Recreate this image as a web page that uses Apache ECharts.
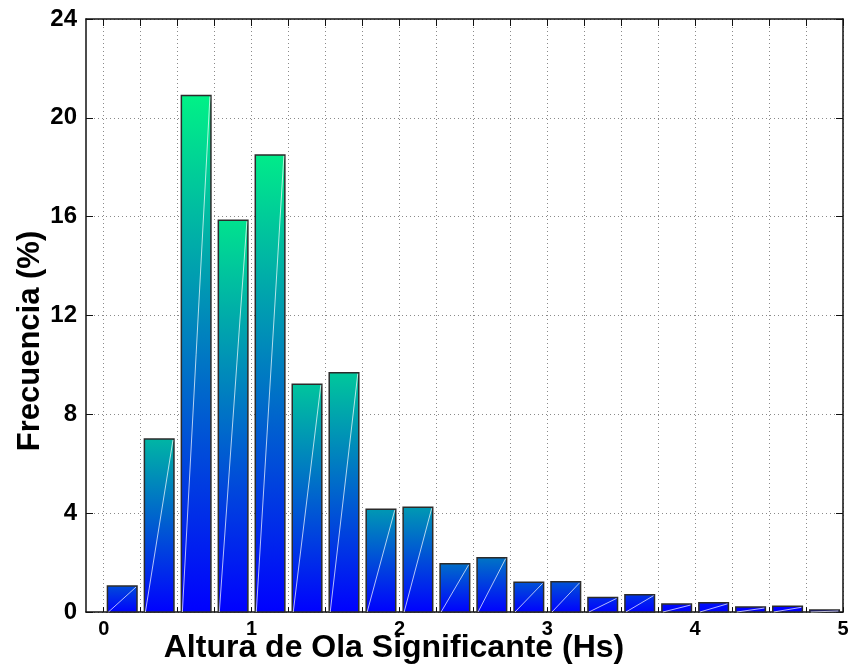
<!DOCTYPE html>
<html>
<head>
<meta charset="utf-8">
<title>Frecuencia de Altura de Ola Significante</title>
<script src="https://cdn.jsdelivr.net/npm/echarts@6/dist/echarts.min.js"></script>
<style>
  html, body { margin: 0; padding: 0; background: #fff; }
  #chart { width: 861px; height: 668px; }
</style>
</head>
<body>
<div id="chart"></div>
<script>
// Histogram bins (Hs, metres) and their relative frequency (%)
const binCenters = [0.125, 0.375, 0.625, 0.875, 1.125, 1.375, 1.625, 1.875, 2.125, 2.375,
                    2.625, 2.875, 3.125, 3.375, 3.625, 3.875, 4.125, 4.375, 4.625, 4.875];
const frequency  = [1.05, 7.0, 20.9, 15.85, 18.5, 9.22, 9.68, 4.16, 4.24, 1.95,
                    2.2, 1.2, 1.22, 0.59, 0.7, 0.32, 0.37, 0.2, 0.23, 0.08];

// Axis ticks
const xGridValues  = [0, 0.25, 0.5, 0.75, 1, 1.25, 1.5, 1.75, 2, 2.25, 2.5, 2.75,
                      3, 3.25, 3.5, 3.75, 4, 4.25, 4.5, 4.75, 5];
const xLabelValues = [0, 1, 2, 3, 4, 5];
const yMin = 0, yMax = 24, yStep = 4;
const xMin = -0.12, xMax = 5;
const barWidth = 0.2;

const xTitle = 'Altura de Ola Significante (Hs)';
const yTitle = 'Frecuencia (%)';

const FONT = '"Liberation Sans", Arial, Helvetica, sans-serif';

// "winter" colour map: blue -> green
function winter(t) {
  t = Math.max(0, Math.min(1, t));
  const g = Math.round(255 * t);
  const b = Math.round(255 * (1 - 0.5 * t));
  return 'rgb(0,' + g + ',' + b + ')';
}
// colour reached at the top of a bar of height v (log-scaled)
function topColor(v) {
  return winter((Math.log10(Math.max(v, 0.01)) + 0.58) / 2);
}

const barData = binCenters.map((c, i) => [c, frequency[i]]);

const chart = echarts.init(document.getElementById('chart'), null, { renderer: 'canvas' });

const gridDotted = { color: '#8a8a8a', width: 1, type: [1, 3] };
const axisLineStyle = { color: '#111', width: 1.5 };

chart.setOption({
  animation: false,
  backgroundColor: '#fff',
  grid: { left: 86, right: 18, top: 19, bottom: 56, containLabel: false },
  xAxis: [
    {
      type: 'value', min: xMin, max: xMax, position: 'bottom',
      axisLine: { show: true, onZero: false, lineStyle: axisLineStyle },
      axisTick: { show: true, inside: true, length: 5, customValues: xGridValues,
                  lineStyle: { color: '#111', width: 1 } },
      axisLabel: { show: true, customValues: xLabelValues, margin: 7,
                   fontFamily: FONT, fontWeight: 'bold', fontSize: 20, color: '#000' },
      splitLine: { show: true, lineStyle: gridDotted }
    },
    {
      type: 'value', min: xMin, max: xMax, position: 'top',
      axisLine: { show: true, onZero: false, lineStyle: axisLineStyle },
      axisTick: { show: true, inside: true, length: 7, customValues: xGridValues,
                  lineStyle: { color: '#111', width: 1 } },
      axisLabel: { show: false },
      splitLine: { show: false }
    }
  ],
  yAxis: [
    {
      type: 'value', min: yMin, max: yMax, interval: yStep, position: 'left',
      axisLine: { show: true, onZero: false, lineStyle: axisLineStyle },
      axisTick: { show: true, inside: true, length: 7, lineStyle: { color: '#111', width: 1 } },
      axisLabel: { show: true, margin: 9, fontFamily: FONT, fontWeight: 'bold',
                   fontSize: 24, color: '#000' },
      splitLine: { show: true, lineStyle: gridDotted }
    },
    {
      type: 'value', min: yMin, max: yMax, interval: yStep, position: 'right',
      axisLine: { show: true, onZero: false, lineStyle: axisLineStyle },
      axisTick: { show: true, inside: true, length: 7, lineStyle: { color: '#111', width: 1 } },
      axisLabel: { show: false },
      splitLine: { show: false }
    }
  ],
  graphic: [
    {
      type: 'text', x: 394, y: 648,
      style: { text: xTitle, fontFamily: FONT, fontWeight: 'bold', fontSize: 32, fill: '#000',
               x: 0, y: 0, textAlign: 'center', textVerticalAlign: 'middle' }
    },
    {
      type: 'text', rotation: Math.PI / 2, x: 30, y: 341,
      style: { text: yTitle, fontFamily: FONT, fontWeight: 'bold', fontSize: 31, fill: '#000',
               x: 0, y: 0, textAlign: 'center', textVerticalAlign: 'middle' }
    }
  ],
  series: [
    {
      type: 'custom',
      xAxisIndex: 0, yAxisIndex: 0,
      data: barData,
      z: 3,
      renderItem(params, api) {
        const c = api.value(0);
        const v = api.value(1);
        const p0 = api.coord([c - barWidth / 2, 0]);
        const p1 = api.coord([c + barWidth / 2, v]);
        const w = p1[0] - p0[0];
        const h = p0[1] - p1[1];
        const fill = new echarts.graphic.LinearGradient(0, 0, 0, 1, [
          { offset: 0, color: topColor(v) },
          { offset: 1, color: 'rgb(0,0,255)' }
        ]);
        return {
          type: 'group',
          children: [
            {
              type: 'rect',
              shape: { x: p0[0], y: p1[1], width: w, height: h },
              style: { fill: fill, stroke: '#2b2b2b', lineWidth: 1.5 }
            },
            {
              type: 'line',
              shape: { x1: p0[0] + 1, y1: p0[1], x2: p1[0] - 1, y2: p1[1] + 1 },
              style: { stroke: 'rgba(255,255,255,0.7)', lineWidth: 1 }
            }
          ]
        };
      }
    }
  ]
});
</script>
</body>
</html>
